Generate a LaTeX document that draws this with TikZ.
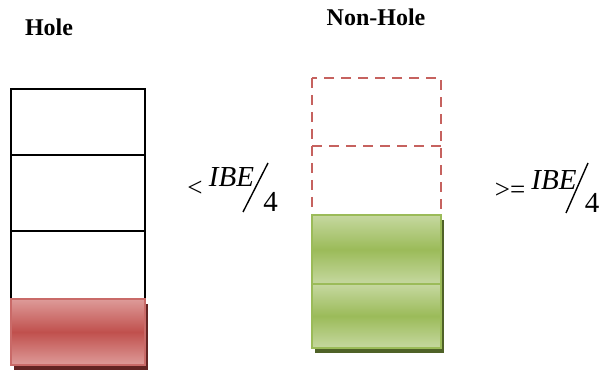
\documentclass[tikz,border=0pt]{standalone}
\usepackage{fontspec}
\setmainfont{Liberation Serif}
\usetikzlibrary{shadows}

\definecolor{holered}{rgb}{0.753,0.314,0.302}
\definecolor{holelight}{rgb}{0.870,0.608,0.600}
\definecolor{holeshadow}{rgb}{0.388,0.141,0.137}
\definecolor{fullgreen}{rgb}{0.608,0.733,0.349}
\definecolor{fulllight}{rgb}{0.776,0.847,0.627}
\definecolor{fullshadow}{rgb}{0.310,0.384,0.157}

\tikzstyle{slot} = [rectangle, inner sep=0pt, outer sep=0pt,
minimum width=134pt, draw=black, line width=1.8pt]
\tikzstyle{freeslot} = [rectangle, inner sep=0pt, outer sep=0pt,
minimum width=129pt]
\tikzstyle{freeline} = [draw=holered!90!white, line width=2pt,
dash pattern=on 10pt off 7pt]
\tikzstyle{redslot} = [slot, draw=holered!85!white,
top color=holelight, bottom color=holelight, middle color=holered,
drop shadow={shadow xshift=3pt, shadow yshift=-5pt, fill=holeshadow, opacity=1}]
\tikzstyle{greenslot} = [freeslot, draw=fullgreen, line width=1.8pt,
top color=fulllight, bottom color=fulllight, middle color=fullgreen,
drop shadow={shadow xshift=3pt, shadow yshift=-5pt, fill=fullshadow, opacity=1}]
\tikzstyle{title} = [font=\bfseries\fontsize{24}{28}\selectfont]
\tikzstyle{big} = [inner sep=0pt, font=\fontsize{29}{34}\selectfont]
\tikzstyle{small} = [inner sep=0pt, font=\fontsize{27}{30}\selectfont]

\begin{document}
\begin{tikzpicture}[x=1pt, y=-1pt]
\useasboundingbox (0,0) rectangle (613,371);

% Titles
\node[title] (hole) at (49,27) {Hole};
\node[title] (nonhole) at (376,17) {Non-Hole};

% Hole stack
\node[slot, minimum height=66pt] (h1) at (78,122) {};
\node[slot, minimum height=76pt] (h2) at (78,193) {};
\node[slot, minimum height=68pt] (h3) at (78,265) {};
\node[redslot, minimum height=66pt] (h4) at (78,332) {};

% Non-Hole stack
\node[freeslot, minimum height=68pt] (n1) at (376.5,112) {};
\node[freeslot, minimum height=69pt] (n2) at (376.5,180.5) {};
\draw[freeline] (n1.north west) rectangle (n2.south east);
\draw[freeline] (n1.south west) -- (n1.south east);
\node[greenslot, minimum height=69pt] (n3) at (376.5,249.5) {};
\node[greenslot, minimum height=64pt] (n4) at (376.5,316) {};

% Ratios
\node[small] (less) at (195,189) {<};
\node[big, anchor=base] (ibeleft) at (231.5,187) {\textit{IBE}};
\node[big, anchor=base] (fourleft) at (270.5,212) {4};
\draw[line width=1.4pt] (243,212) -- (268,163);

\node[small] (geq) at (510,191) {>=};
\node[big, anchor=base] (iberight) at (554,190) {\textit{IBE}};
\node[big, anchor=base] (fourright) at (592,213) {4};
\draw[line width=1.4pt] (566,213) -- (588,163);

\end{tikzpicture}
\end{document}
